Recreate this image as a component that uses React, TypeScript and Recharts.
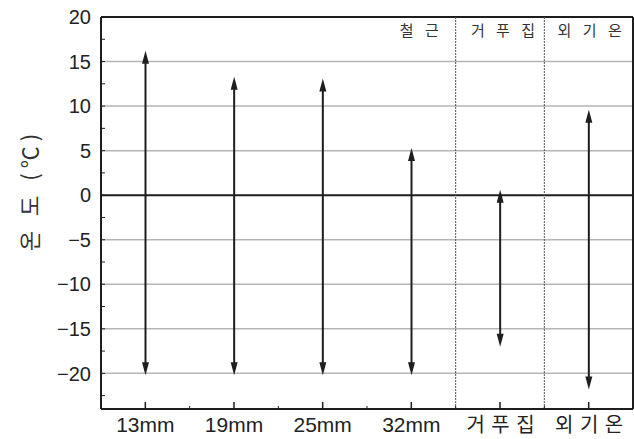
import React from "react";
import {
  BarChart,
  Bar,
  XAxis,
  YAxis,
  CartesianGrid,
  ReferenceLine,
} from "recharts";

// categories and measured ranges (°C)
const categories = ["13mm", "19mm", "25mm", "32mm", "거푸집", "외기온"];
const tickLabels = ["13mm", "19mm", "25mm", "32mm", "거 푸 집", "외 기 온"];
const lowTemps = [-20.2, -20.2, -20.2, -20.2, -17.0, -21.8];
const highTemps = [16.2, 13.3, 13.1, 5.3, 0.6, 9.6];

const yTicks = [
  -22.5, -20, -17.5, -15, -12.5, -10, -7.5, -5, -2.5, 0, 2.5, 5, 7.5, 10,
  12.5, 15, 17.5, 20,
];
const gridValues = [-20, -15, -10, -5, 5, 10, 15];

const data = categories.map((c, i) => ({
  name: c,
  range: [lowTemps[i], highTemps[i]],
}));

const FONT = "'Liberation Sans', Arial, 'Noto Sans CJK KR', sans-serif";
const KFONT = "'Noto Sans CJK KR', sans-serif";
const INK = "#1e1e1e";

const ArrowShape = (props: any) => {
  const { x, y, width, height } = props;
  if (height == null) return null;
  const cx = x + width / 2;
  const top = y;
  const bot = y + height;
  const hw = 3.5;
  const hl = 13;
  return (
    <g>
      <line x1={cx} x2={cx} y1={top + 6} y2={bot - 6} stroke={INK} strokeWidth={2} />
      <path d={`M${cx},${top} L${cx - hw},${top + hl} L${cx + hw},${top + hl} Z`} fill={INK} />
      <path d={`M${cx},${bot} L${cx - hw},${bot - hl} L${cx + hw},${bot - hl} Z`} fill={INK} />
    </g>
  );
};

const XTick = (props: any) => {
  const { x, y, payload, index } = props;
  const half = payload && payload.offset ? payload.offset : 44.3;
  return (
    <g>
      <line x1={x} x2={x} y1={y} y2={y - 7} stroke={INK} strokeWidth={1.5} />
      <line x1={x + half} x2={x + half} y1={y} y2={y - 3} stroke={INK} strokeWidth={1} />
      <text
        x={index >= 4 ? x + 1 : x}
        y={y + 23}
        textAnchor="middle"
        fontSize={index >= 4 ? 20 : 21}
        fill="#222"
        fontFamily={index >= 4 ? KFONT : FONT}
        letterSpacing={index >= 4 ? 1 : 0}
      >
        {tickLabels[index]}
      </text>
    </g>
  );
};

const YTick = (props: any) => {
  const { x, y, payload } = props;
  const v = payload.value;
  const major = v % 5 === 0;
  return (
    <g>
      <line x1={x} x2={x + 4} y1={y} y2={y} stroke={INK} strokeWidth={1} />
      {major && (
        <text
          x={x - 10}
          y={y}
          dy="0.36em"
          textAnchor="end"
          fontSize={20}
          fill="#222"
          fontFamily={FONT}
        >
          {String(v).replace("-", "\u2212")}
        </text>
      )}
    </g>
  );
};

const topLabel = (text: string, dx: number) => (props: any) => {
  const vb = props.viewBox || {};
  return (
    <text
      x={(vb.x || 0) + dx}
      y={(vb.y || 0) + 19}
      textAnchor="middle"
      fontSize={15}
      fill="#333"
      fontFamily={KFONT}
      letterSpacing={4}
    >
      {text}
    </text>
  );
};

const yAxisTitle = () => (
  <text
    x={28}
    y={190}
    transform="rotate(-90, 28, 190)"
    textAnchor="middle"
    dominantBaseline="central"
    fontSize={22}
    fill="#333"
    fontFamily={KFONT}
    letterSpacing={5}
  >
    온 도 (℃)
  </text>
);

export default function App() {
  return (
    <div style={{ position: "absolute", left: 0, top: 0, background: "#fff" }}>
      <BarChart
        width={634}
        height={439}
        data={data}
        margin={{ top: 17, right: 1, left: 0, bottom: 0 }}
        barCategoryGap={0}
      >
        <CartesianGrid
          vertical={false}
          horizontalValues={gridValues}
          stroke="#b5b5b5"
          strokeWidth={1.5}
        />
        <XAxis
          dataKey="name"
          height={30}
          tickSize={0}
          tickMargin={0}
          tickLine={false}
          axisLine={{ stroke: INK, strokeWidth: 2 }}
          tick={<XTick />}
          interval={0}
        />
        <YAxis
          width={101}
          domain={[-24, 20]}
          ticks={yTicks}
          type="number"
          allowDataOverflow
          tickSize={0}
          tickMargin={0}
          tickLine={false}
          axisLine={{ stroke: INK, strokeWidth: 2 }}
          tick={<YTick />}
          interval={0}
          label={yAxisTitle}
        />
        <ReferenceLine y={0} stroke={INK} strokeWidth={2} />
        <ReferenceLine y={20} stroke={INK} strokeWidth={2} />
        <ReferenceLine x="외기온" position="end" stroke={INK} strokeWidth={2} />
        <ReferenceLine
          x="거푸집"
          position="start"
          stroke="#555"
          strokeWidth={1}
          strokeDasharray="2 1"
        />
        <ReferenceLine
          x="외기온"
          position="start"
          stroke="#555"
          strokeWidth={1}
          strokeDasharray="2 1"
        />
        <ReferenceLine x="32mm" stroke="none" label={topLabel("철 근", 10)} />
        <ReferenceLine x="거푸집" stroke="none" label={topLabel("거 푸 집", 5)} />
        <ReferenceLine x="외기온" stroke="none" label={topLabel("외 기 온", 3)} />
        <Bar dataKey="range" shape={<ArrowShape />} isAnimationActive={false} />
      </BarChart>
    </div>
  );
}
